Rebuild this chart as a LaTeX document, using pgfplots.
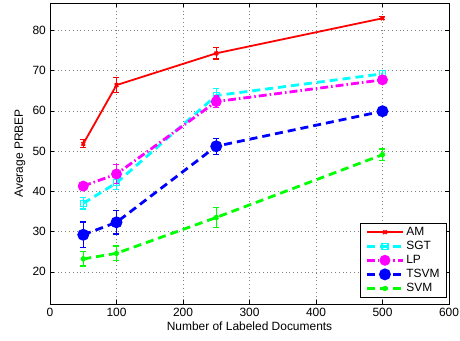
\documentclass[border=0pt]{standalone}
\usepackage{fontspec}
\setmainfont{Liberation Sans}
\usepackage{pgfplots}
\pgfplotsset{compat=1.18}
\definecolor{mred}{RGB}{255,0,0}
\definecolor{mcyan}{RGB}{0,255,255}
\definecolor{mmag}{RGB}{255,0,255}
\definecolor{mblue}{RGB}{0,0,255}
\definecolor{mgreen}{RGB}{0,255,0}
\pgfplotstableread{
x y e
50 51.8 1.0
100 66.4 1.8
250 74.3 1.4
500 83.0 0.4
}\am
\pgfplotstableread{
x y e
50 37.0 1.4
100 42.1 1.6
250 63.8 1.8
500 69.2 0.8
}\sgt
\pgfplotstableread{
x y e
50 41.3 0.6
100 44.3 2.4
250 62.3 1.4
500 67.7 0.5
}\lp
\pgfplotstableread{
x y e
50 29.2 3.2
100 32.3 2.9
250 51.2 2.0
500 59.9 0.5
}\tsvm
\pgfplotstableread{
x y e
50 23.2 1.8
100 24.6 1.8
250 33.5 2.5
500 49.1 1.4
}\svm
\pgfplotsset{
  mylegend/.style={legend image code/.code={\draw[mark repeat=2, mark phase=2] plot coordinates {(0bp,0bp) (18bp,0bp) (36bp,0bp)};}},
}
\begin{document}
\fontsize{12}{14}\selectfont
\begin{tikzpicture}
\begin{axis}[
  at={(0,0)}, anchor=south west,
  scale only axis, width=399bp, height=301bp,
  xmin=0, xmax=600, ymin=12, ymax=86.8,
  xtick={0,100,...,600}, ytick={20,30,...,80},
  grid=major,
  grid style={dash pattern=on 0.8bp off 3bp, line width=0.6bp, gray},
  axis line style={line width=0.9bp},
  tick align=inside, tick pos=both, major tick length=4bp,
  every tick/.style={black, line width=0.6bp},
  xlabel={Number of Labeled Documents}, ylabel={Average PRBEP},
  xlabel style={at={(axis description cs:0.5,-0.073)}, anchor=center},
  ylabel style={at={(axis description cs:-0.075,0.5)}, anchor=center},
  tick label style={font=\fontsize{12}{14}\selectfont},
  label style={font=\fontsize{12}{14}\selectfont},
  /pgf/number format/assume math mode=true,
  legend style={at={(1,0)}, anchor=south east, xshift=-2bp, yshift=6bp,
    draw=black, line width=0.9bp, font=\fontsize{12}{14}\selectfont,
    inner xsep=5bp, inner ysep=2bp, row sep=0bp, cells={anchor=west}},
  error bars/y dir=both, error bars/y explicit,
]
\addplot[mylegend, mred, line width=1.8bp, mark=x, mark size=2.5bp, mark options={solid},
  error bars/.cd, error bar style={line width=1.2bp, solid}, error mark options={rotate=90, mark size=3bp, line width=1.2bp}]
  table[x=x, y=y, y error=e] {\am};
\addlegendentry{AM}
\addplot[mylegend, mcyan, line width=2.8bp, dash pattern=on 8bp off 5bp, mark=square, mark size=3bp, mark options={solid, line width=1.2bp},
  error bars/.cd, error bar style={line width=1.4bp, solid}, error mark options={rotate=90, mark size=3bp, line width=1.4bp}]
  table[x=x, y=y, y error=e] {\sgt};
\addlegendentry{SGT}
\addplot[mylegend, mmag, line width=2.8bp, dash pattern=on 8bp off 3bp on 1.5bp off 3bp, mark=*, mark size=4bp, mark options={solid},
  error bars/.cd, error bar style={line width=1.4bp, solid}, error mark options={rotate=90, mark size=3bp, line width=1.4bp}]
  table[x=x, y=y, y error=e] {\lp};
\addlegendentry{LP}
\addplot[mylegend, mblue, line width=2.8bp, dash pattern=on 8bp off 5bp, mark=*, mark size=4.5bp, mark options={solid},
  error bars/.cd, error bar style={line width=1.4bp, solid}, error mark options={rotate=90, mark size=3bp, line width=1.4bp}]
  table[x=x, y=y, y error=e] {\tsvm};
\addlegendentry{TSVM}
\addplot[mylegend, mgreen, line width=2.8bp, dash pattern=on 8bp off 5bp, mark=x, mark size=2.5bp, mark options={solid},
  error bars/.cd, error bar style={line width=1.4bp, solid}, error mark options={rotate=90, mark size=3bp, line width=1.4bp}]
  table[x=x, y=y, y error=e] {\svm};
\addlegendentry{SVM}
\end{axis}
\pgfresetboundingbox
\useasboundingbox (-50bp,-37bp) rectangle (410bp,304bp);
\end{tikzpicture}
\end{document}
